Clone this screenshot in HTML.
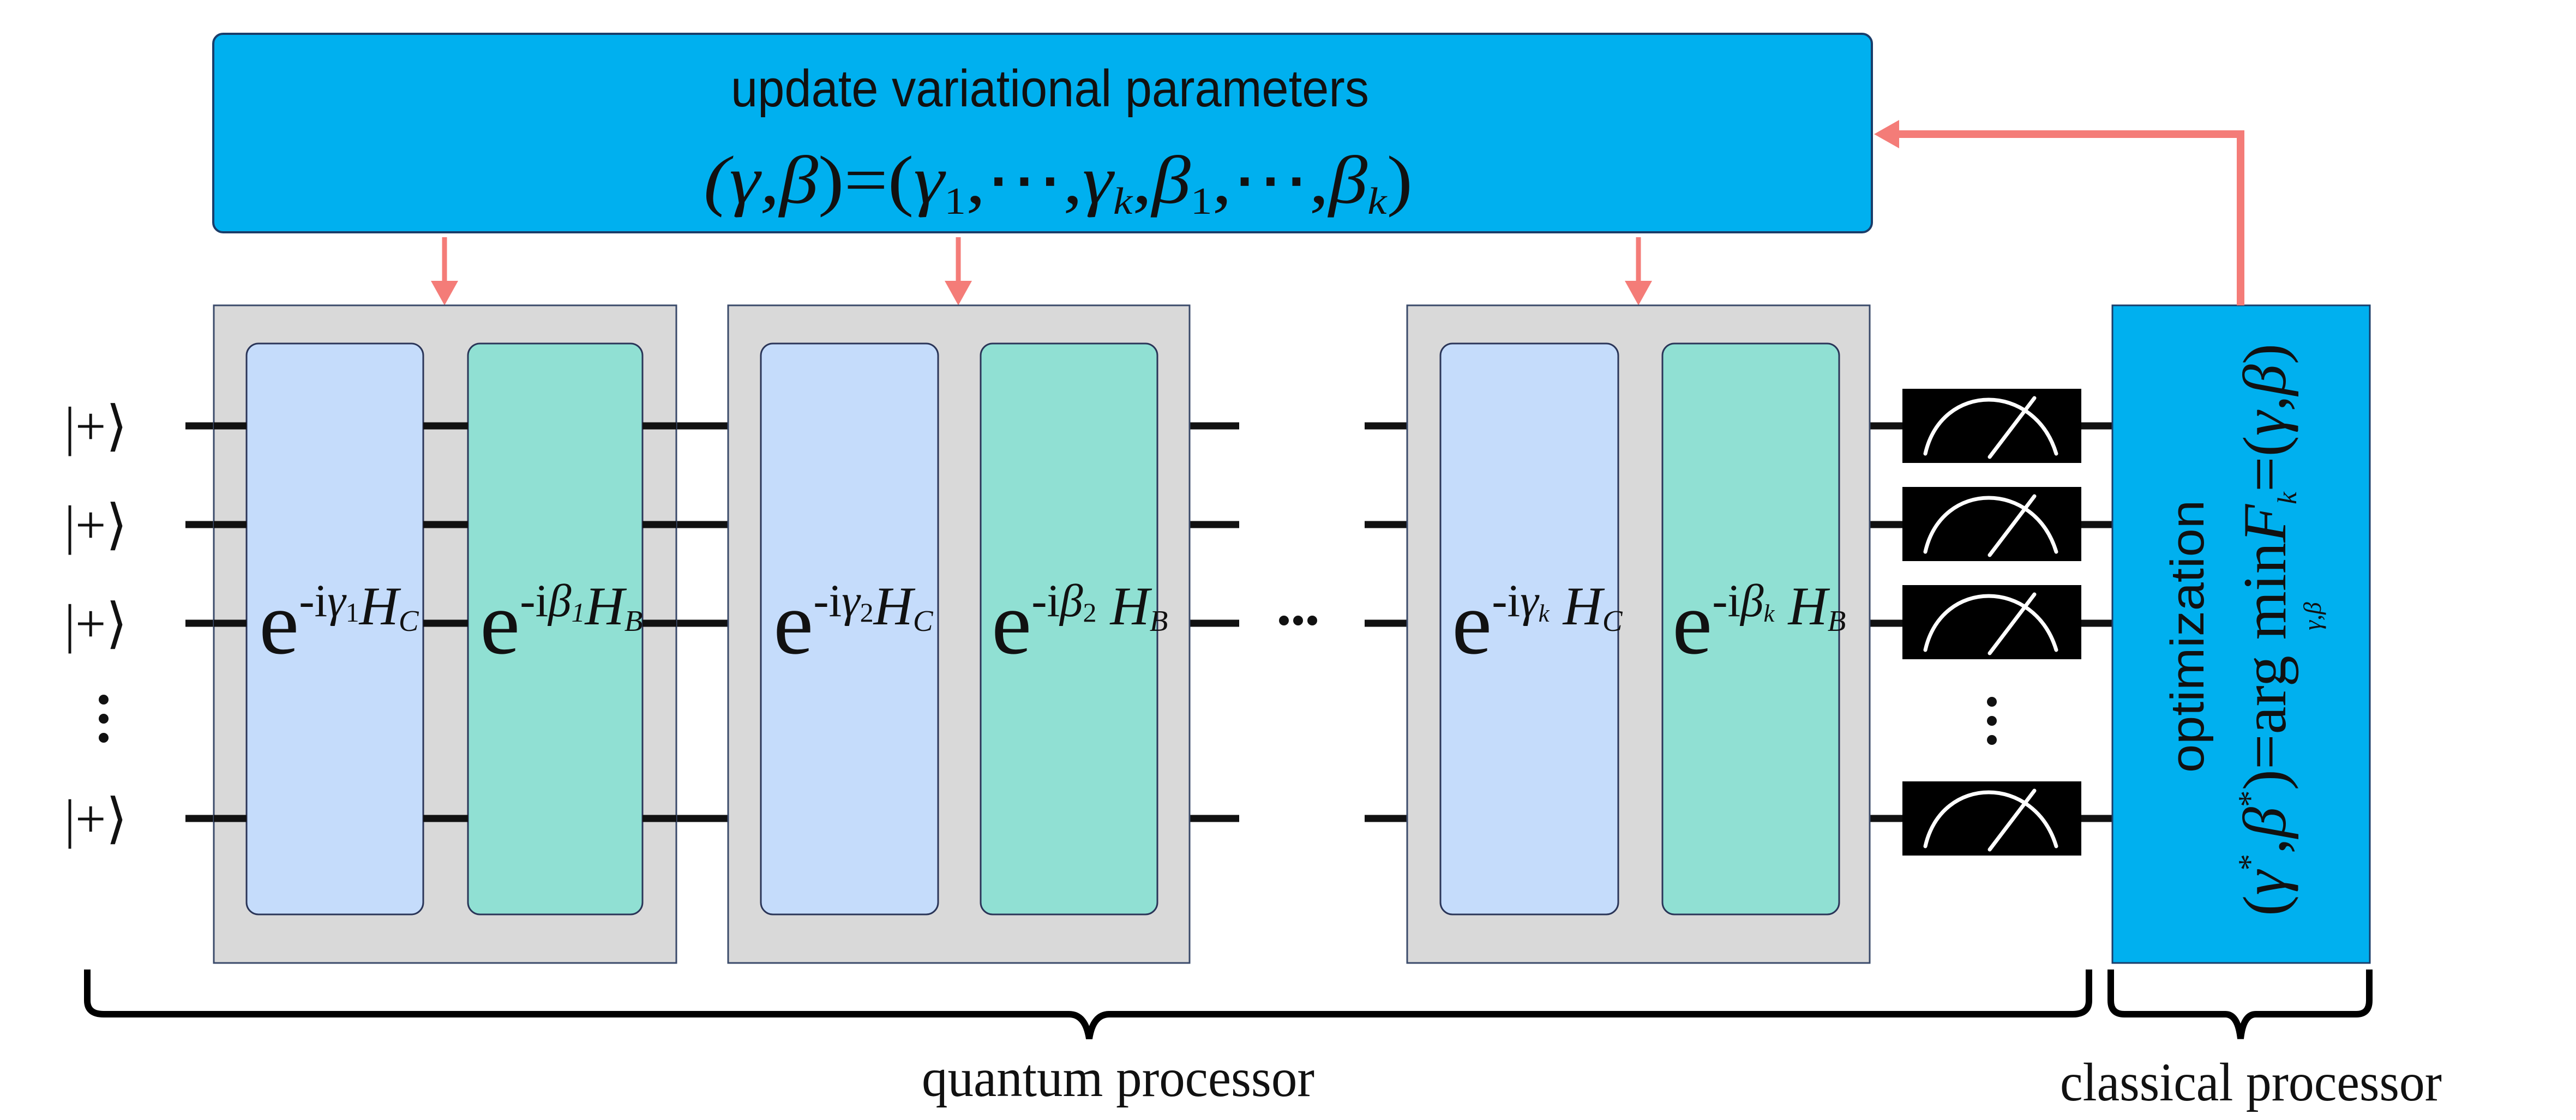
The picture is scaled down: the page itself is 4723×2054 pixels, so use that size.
<!DOCTYPE html>
<html><head><meta charset="utf-8"><style>
html,body{margin:0;padding:0;background:#fff;}
svg{display:block;}
</style></head><body>
<svg width="4723" height="2054" viewBox="0 0 4723 2054" xmlns="http://www.w3.org/2000/svg">
<rect width="4723" height="2054" fill="#fff"/>

<!-- top box -->
<rect x="391" y="62" width="3041" height="364" rx="18" fill="#00b0ef" stroke="#1a3d6a" stroke-width="4"/>
<text x="1925" y="195" text-anchor="middle" font-family="Liberation Sans, sans-serif" font-size="96" fill="#111" textLength="1170" lengthAdjust="spacingAndGlyphs">update variational parameters</text>
<text x="1940" y="372" text-anchor="middle" font-family="Liberation Serif, serif" font-size="125" fill="#111" textLength="1300" lengthAdjust="spacingAndGlyphs"><tspan font-style="italic">(γ,β</tspan>)=(<tspan font-style="italic">γ</tspan><tspan font-size="70" dy="20">1</tspan><tspan dy="-20">,⋯,</tspan><tspan font-style="italic">γ</tspan><tspan font-size="70" font-style="italic" dy="20">k</tspan><tspan dy="-20">,</tspan><tspan font-style="italic">β</tspan><tspan font-size="70" dy="20">1</tspan><tspan dy="-20">,⋯,</tspan><tspan font-style="italic">β</tspan><tspan font-size="70" font-style="italic" dy="20">k</tspan><tspan dy="-20">)</tspan></text>

<!-- down arrows -->
<g stroke="#f47c78" stroke-width="9" fill="none">
<line x1="815" y1="435" x2="815" y2="530"/>
<line x1="1757" y1="435" x2="1757" y2="530"/>
<line x1="3004" y1="435" x2="3004" y2="530"/>
</g>
<g fill="#f47c78">
<path d="M790,515 L840,515 L815,560 z"/>
<path d="M1732,515 L1782,515 L1757,560 z"/>
<path d="M2979,515 L3029,515 L3004,560 z"/>
</g>

<!-- wires -->
<g stroke="#111" stroke-width="13">
<line x1="340" y1="781" x2="2272" y2="781"/><line x1="2502" y1="781" x2="3875" y2="781"/>
<line x1="340" y1="962" x2="2272" y2="962"/><line x1="2502" y1="962" x2="3875" y2="962"/>
<line x1="340" y1="1143" x2="2272" y2="1143"/><line x1="2502" y1="1143" x2="3875" y2="1143"/>
<line x1="340" y1="1501" x2="2272" y2="1501"/><line x1="2502" y1="1501" x2="3875" y2="1501"/>
</g>

<!-- gray blocks -->
<g fill="#d9d9d9" stroke="#3a4a6a" stroke-width="3">
<rect x="392" y="560" width="848" height="1206"/>
<rect x="1335" y="560" width="846" height="1206"/>
<rect x="2580" y="560" width="848" height="1206"/>
</g>
<!-- gates -->
<g stroke="#2a3558" stroke-width="3">
<rect x="452" y="630" width="324" height="1047" rx="22" fill="#c5dcfb"/>
<rect x="858" y="630" width="320" height="1047" rx="22" fill="#90e0d3"/>
<rect x="1395" y="630" width="325" height="1047" rx="22" fill="#c5dcfb"/>
<rect x="1798" y="630" width="324" height="1047" rx="22" fill="#90e0d3"/>
<rect x="2641" y="630" width="326" height="1047" rx="22" fill="#c5dcfb"/>
<rect x="3048" y="630" width="324" height="1047" rx="22" fill="#90e0d3"/>
</g>
<g stroke="#111" stroke-width="13">
<line x1="776" y1="781" x2="858" y2="781"/><line x1="776" y1="962" x2="858" y2="962"/><line x1="776" y1="1143" x2="858" y2="1143"/><line x1="776" y1="1501" x2="858" y2="1501"/>
<line x1="392" y1="781" x2="452" y2="781"/><line x1="392" y1="962" x2="452" y2="962"/><line x1="392" y1="1143" x2="452" y2="1143"/><line x1="392" y1="1501" x2="452" y2="1501"/>
<line x1="1178" y1="781" x2="1240" y2="781"/><line x1="1178" y1="962" x2="1240" y2="962"/><line x1="1178" y1="1143" x2="1240" y2="1143"/><line x1="1178" y1="1501" x2="1240" y2="1501"/>
</g>

<!-- gate labels -->
<g font-family="Liberation Serif, serif" fill="#111">
<text x="475" y="1198" font-size="165">e<tspan font-size="85" dy="-68">-i</tspan><tspan font-size="85" font-style="italic">γ</tspan><tspan font-size="50" dy="10">1</tspan><tspan font-size="100" font-style="italic" dy="5">H</tspan><tspan font-size="55" font-style="italic" dy="12">C</tspan></text>
<text x="880" y="1198" font-size="165">e<tspan font-size="85" dy="-68">-i</tspan><tspan font-size="85" font-style="italic">β</tspan><tspan font-size="50" font-style="italic" dy="10">1</tspan><tspan font-size="100" font-style="italic" dy="5">H</tspan><tspan font-size="55" font-style="italic" dy="12">B</tspan></text>
<text x="1418" y="1198" font-size="165">e<tspan font-size="85" dy="-68">-i</tspan><tspan font-size="85" font-style="italic">γ</tspan><tspan font-size="50" dy="10">2</tspan><tspan font-size="100" font-style="italic" dy="5">H</tspan><tspan font-size="55" font-style="italic" dy="12">C</tspan></text>
<text x="1818" y="1198" font-size="165">e<tspan font-size="85" dy="-68">-i</tspan><tspan font-size="85" font-style="italic">β</tspan><tspan font-size="50" dy="10">2</tspan><tspan font-size="100" font-style="italic" dy="5"> H</tspan><tspan font-size="55" font-style="italic" dy="12">B</tspan></text>
<text x="2662" y="1198" font-size="165">e<tspan font-size="85" dy="-68">-i</tspan><tspan font-size="85" font-style="italic">γ</tspan><tspan font-size="45" font-style="italic" dy="10">k</tspan><tspan font-size="100" font-style="italic" dy="5"> H</tspan><tspan font-size="55" font-style="italic" dy="12">C</tspan></text>
<text x="3066" y="1198" font-size="165">e<tspan font-size="85" dy="-68">-i</tspan><tspan font-size="85" font-style="italic">β</tspan><tspan font-size="45" font-style="italic" dy="10">k</tspan><tspan font-size="100" font-style="italic" dy="5"> H</tspan><tspan font-size="55" font-style="italic" dy="12">B</tspan></text>
</g>

<!-- dots -->
<g fill="#111">
<circle cx="2354" cy="1138" r="9"/><circle cx="2380" cy="1138" r="9"/><circle cx="2406" cy="1138" r="9"/>
<circle cx="190" cy="1283" r="9"/><circle cx="190" cy="1318" r="9"/><circle cx="190" cy="1353" r="9"/>
<circle cx="3652" cy="1287" r="9"/><circle cx="3652" cy="1322" r="9"/><circle cx="3652" cy="1357" r="9"/>
</g>

<!-- ket labels -->
<g font-family="Liberation Serif, serif" font-size="100" fill="#111">
<text x="118" y="815">|+⟩</text>
<text x="118" y="996">|+⟩</text>
<text x="118" y="1177">|+⟩</text>
<text x="118" y="1535">|+⟩</text>
</g>

<!-- meters -->
<g>
<rect x="3488" y="713" width="328" height="136" fill="#000"/>
<rect x="3488" y="893" width="328" height="136" fill="#000"/>
<rect x="3488" y="1073" width="328" height="136" fill="#000"/>
<rect x="3488" y="1433" width="328" height="136" fill="#000"/>
<g stroke="#fff" stroke-width="7" fill="none" stroke-linecap="round">
<path d="M3530,832 C3560,700 3730,700 3770,832"/><line x1="3648" y1="838" x2="3730" y2="730"/>
<path d="M3530,1012 C3560,880 3730,880 3770,1012"/><line x1="3648" y1="1018" x2="3730" y2="910"/>
<path d="M3530,1192 C3560,1060 3730,1060 3770,1192"/><line x1="3648" y1="1198" x2="3730" y2="1090"/>
<path d="M3530,1552 C3560,1420 3730,1420 3770,1552"/><line x1="3648" y1="1558" x2="3730" y2="1450"/>
</g>
</g>

<!-- right optimization box -->
<rect x="3873" y="560" width="472" height="1206" fill="#00b0ef" stroke="#1a3d6a" stroke-width="3"/>
<text transform="translate(4040,1167) rotate(-90)" text-anchor="middle" font-family="Liberation Sans, sans-serif" font-size="86" fill="#111" textLength="500" lengthAdjust="spacingAndGlyphs">optimization</text>
<text transform="translate(4190,1155) rotate(-90)" text-anchor="middle" font-family="Liberation Serif, serif" font-size="112" fill="#111" textLength="1050" lengthAdjust="spacingAndGlyphs">(<tspan font-style="italic">γ</tspan><tspan font-size="60" dy="-45">*</tspan><tspan dy="45">,</tspan><tspan font-style="italic">β</tspan><tspan font-size="60" dy="-45">*</tspan><tspan dy="45">)=arg min</tspan><tspan font-style="italic">F</tspan><tspan font-size="50" font-style="italic" dy="20">k</tspan><tspan dy="-20">=(</tspan><tspan font-style="italic">γ,β</tspan>)</text>
<text transform="translate(4255,1130) rotate(-90)" text-anchor="middle" font-family="Liberation Serif, serif" font-size="45" font-style="italic" fill="#111">γ,β</text>

<!-- feedback arrow -->
<polyline points="4108,560 4108,246 3470,246" fill="none" stroke="#f47c78" stroke-width="14"/>
<path d="M3436,246 L3482,220 L3482,272 z" fill="#f47c78"/>

<!-- braces -->
<g fill="none" stroke="#000" stroke-width="12">
<path d="M160,1778 L160,1835 Q160,1860 190,1860 L1960,1860 Q1990,1860 1997,1905 Q2004,1860 2034,1860 L3800,1860 Q3830,1860 3830,1835 L3830,1778"/>
<path d="M3870,1778 L3870,1835 Q3870,1860 3895,1860 L4080,1860 Q4103,1860 4108,1905 Q4113,1860 4136,1860 L4320,1860 Q4344,1860 4344,1835 L4344,1778"/>
</g>

<text x="2050" y="2010" text-anchor="middle" font-family="Liberation Serif, serif" font-size="100" fill="#111" textLength="720" lengthAdjust="spacingAndGlyphs">quantum processor</text>
<text x="4127" y="2018" text-anchor="middle" font-family="Liberation Serif, serif" font-size="100" fill="#111" textLength="700" lengthAdjust="spacingAndGlyphs">classical processor</text>
</svg>
</body></html>
